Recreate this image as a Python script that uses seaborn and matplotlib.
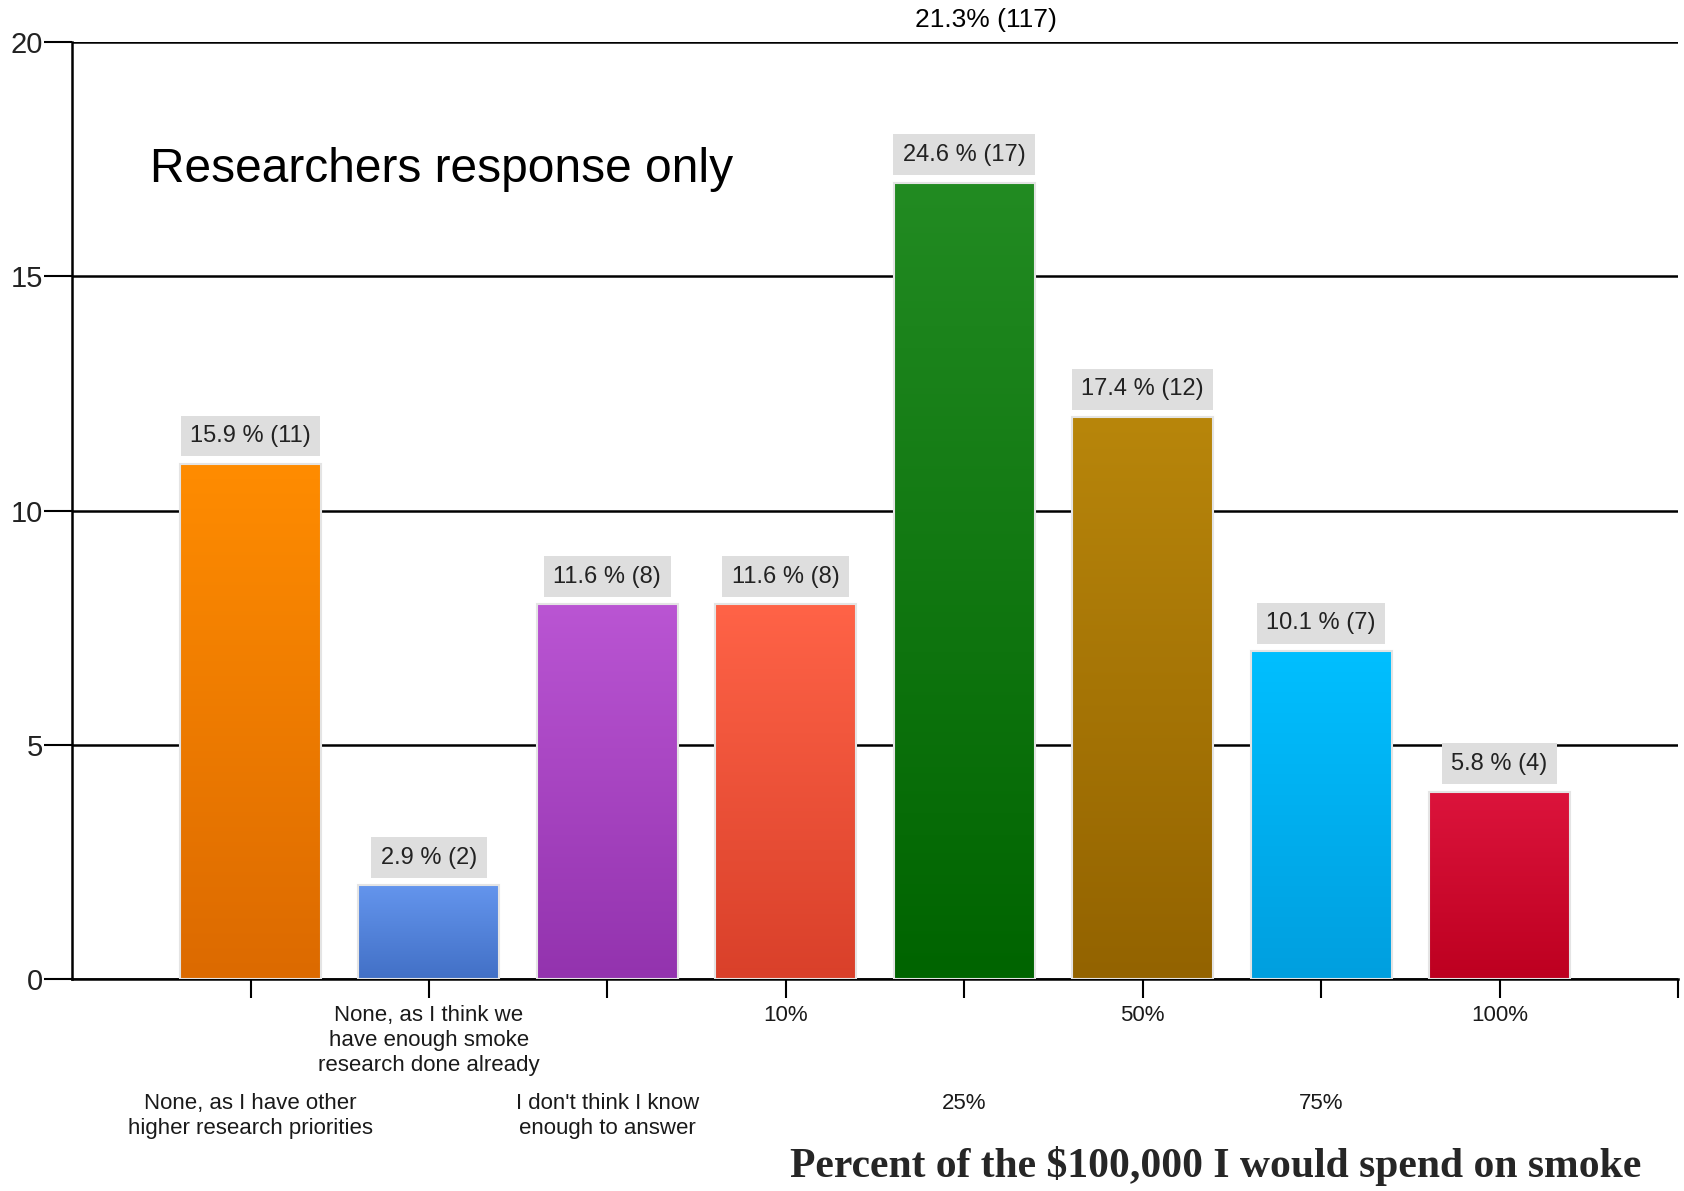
import matplotlib
matplotlib.use('Agg')
import matplotlib.pyplot as plt
import numpy as np
import pandas as pd
import seaborn as sns
from matplotlib.colors import LinearSegmentedColormap

# -------------------- DATA --------------------
categories = [
    'None, as I have other\nhigher research priorities',
    'None, as I think we\nhave enough smoke\nresearch done already',
    "I don't think I know\nenough to answer",
    '10%', '25%', '50%', '75%', '100%',
]
counts = [11, 2, 8, 8, 17, 12, 7, 4]
percents = [15.9, 2.9, 11.6, 11.6, 24.6, 17.4, 10.1, 5.8]
top_colors = ['#FF8C00', '#6495ED', '#BA55D3', '#FF6347',
              '#228B22', '#B8860B', '#00BFFF', '#DC143C']
bottom_colors = ['#DC6A00', '#4270C6', '#9333AE', '#D9402A',
                 '#006400', '#936300', '#009FDF', '#BD0020']
y_ticks = [0, 5, 10, 15, 20]
total_label = '21.3% (117)'
title_text = 'Researchers response only'
x_label = 'Percent of the $100,000 I would spend on smoke'

df = pd.DataFrame({'category': categories, 'count': counts, 'percent': percents})

# -------------------- STYLE --------------------
sns.set_theme(style='white')
plt.rcParams['font.family'] = ['Liberation Sans', 'DejaVu Sans']

fig = plt.figure(figsize=(16.84, 11.91), dpi=100)
ax = fig.add_axes([0.0428, 0.178, 0.9536, 0.7867])

sns.barplot(data=df, x='category', y='count', hue='category', order=categories,
            palette=top_colors, width=0.79, legend=False, ax=ax,
            edgecolor='#E4E4E4', linewidth=1.5, zorder=3)

# gradient fill, lighter at the top
grad = np.linspace(0, 1, 256).reshape(-1, 1)
for patch, c_top, c_bot in zip(ax.patches, top_colors, bottom_colors):
    bb = patch.get_bbox()
    cmap = LinearSegmentedColormap.from_list('g', [c_bot, c_top])
    im = ax.imshow(grad, extent=[bb.x0, bb.x1, bb.y0, bb.y1], origin='lower',
                   aspect='auto', cmap=cmap, zorder=2.9, interpolation='bilinear')
    im.set_clip_path(patch)
    patch.set_facecolor('none')

# value labels with grey boxes
for i, (c, p) in enumerate(zip(counts, percents)):
    ax.annotate(f'{p} % ({c})', xy=(i, c), xytext=(0, 12), textcoords='offset points',
                ha='center', va='bottom', fontsize=17, color='#222222', zorder=5,
                bbox=dict(boxstyle='square,pad=0.4', facecolor='#DEDEDE', edgecolor='none'))

ax.set_xlim(-1, 8)
ax.set_ylim(0, 20)
ax.set_yticks(y_ticks)
ax.set_yticklabels([str(t) for t in y_ticks], fontsize=21, color='#222222')
ax.yaxis.grid(True, color='black', linewidth=1.8)
ax.xaxis.grid(False)
ax.set_axisbelow(True)

ax.set_xticks(range(9))
ax.set_xticklabels(categories + [''], fontsize=16, color='#1a1a1a', linespacing=1.25)
ax.tick_params(axis='x', length=14, width=1.5, color='black', direction='out', bottom=True)
ax.tick_params(axis='y', length=20, width=1.5, color='black', direction='out', left=True, pad=1)
for i, tick in enumerate(ax.xaxis.get_major_ticks()):
    tick.set_pad(5 if i % 2 else 68)

for side in ['top', 'right']:
    ax.spines[side].set_visible(False)
for side in ['left', 'bottom']:
    ax.spines[side].set_color('black')
    ax.spines[side].set_linewidth(1.8)

ax.set_ylabel('')
ax.set_xlabel(x_label, fontsize=30, fontweight='bold',
              family=['Liberation Serif', 'DejaVu Serif'], ha='right', va='center')
ax.xaxis.set_label_coords(0.977, -0.2)

ax.text(0.0486, 0.864, title_text, transform=ax.transAxes, fontsize=34.5,
        ha='left', va='center', color='black')
ax.text(0.569, 1.023, total_label, transform=ax.transAxes, fontsize=19,
        ha='center', va='center', color='black')

fig.savefig('out.png', dpi=100)
